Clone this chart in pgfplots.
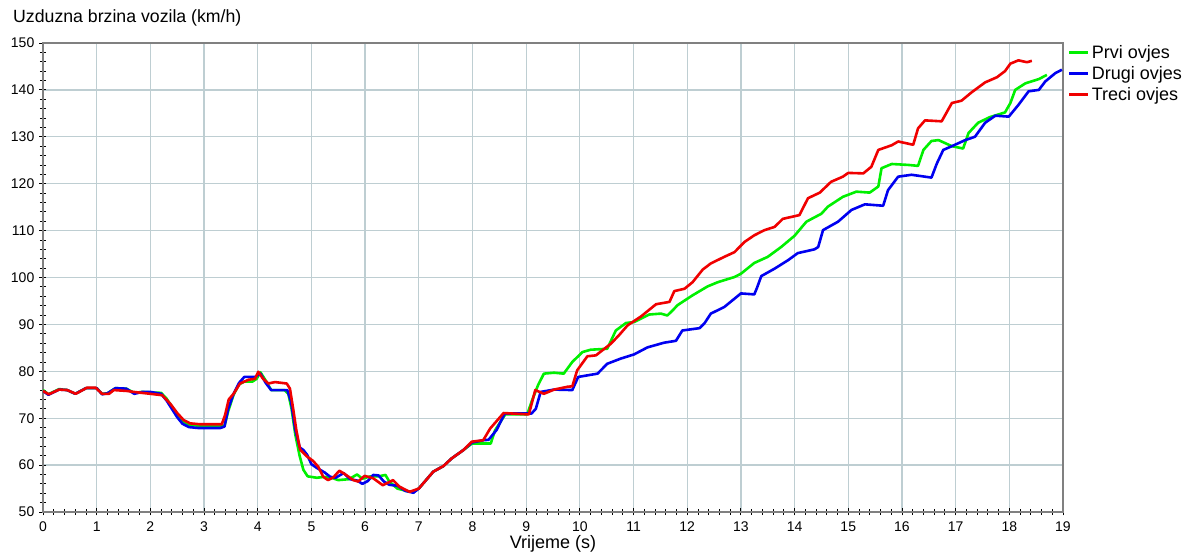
\documentclass[border=0pt]{standalone}
\usepackage{pgfplots}
\pgfplotsset{compat=1.18}
\usepackage{fontspec}
\setmainfont{Liberation Sans}
\definecolor{gridc}{RGB}{190,206,210}
\definecolor{frame}{RGB}{128,128,128}
\definecolor{cg}{RGB}{0,240,0}
\definecolor{cb}{RGB}{0,0,240}
\definecolor{cr}{RGB}{240,0,0}
\begin{document}
\begin{tikzpicture}
\begin{axis}[
  scale only axis, width=1020pt, height=469pt,
  xmin=0, xmax=19, ymin=50, ymax=150,
  xtick={0,1,...,19}, ytick={50,60,...,150},
  minor x tick num=4, minor y tick num=4,
  tick align=center, major tick length=7pt, minor tick length=6pt,
  xtick pos=bottom, ytick pos=left,
  grid=major, major grid style={gridc, line width=1.3pt},
  axis line style={frame, line width=1.2pt},
  tick style={black, line width=0.8pt},
  /pgf/number format/assume math mode=true,
  ticklabel style={font=\fontsize{14}{16}\selectfont},
  yticklabel style={inner sep=0pt, xshift=-5pt},
  xticklabel style={inner sep=0pt, yshift=-6pt},
  xlabel={Vrijeme (s)},
  xlabel style={font=\fontsize{18}{20}\selectfont, at={(rel axis cs:0.5,0)}, anchor=base, yshift=-37pt},
  title={Uzduzna brzina vozila (km/h)},
  title style={font=\fontsize{17.7}{20}\selectfont, at={(rel axis cs:0,1)}, anchor=base west, xshift=-30pt, yshift=14.5pt, inner sep=0pt},
  legend style={at={(rel axis cs:1,1)}, anchor=north west, draw=none, fill=none, xshift=3pt, yshift=2pt,
    font=\fontsize{18}{20}\selectfont, row sep=2.5pt, inner sep=2pt},
  legend cell align=left,
  legend image code/.code={\draw[#1, line width=2.6pt] (0pt,0pt) -- (19pt,0pt);},
  every axis plot/.append style={line width=2.6pt, line join=round},
]
\addplot[cg] coordinates {
(0,76)(0.1,75.1)(0.3,76.2)(0.45,76)(0.6,75.2)(0.8,76.4)(1.0,76.4)(1.1,75.2)(1.2,75.3)(1.35,76.4)(1.55,76.3)(1.7,75.4)(1.85,75.6)(2.0,75.5)(2.2,75.4)(2.3,74.2)(2.4,72.5)(2.5,70.8)(2.6,69.4)(2.72,68.6)(2.9,68.4)(3.3,68.4)(3.38,68.3)(3.45,71.5)(3.55,75)(3.65,77.2)(3.75,77.8)(3.9,77.8)(3.98,78.4)(4.05,79.8)(4.15,78)(4.25,76)(4.5,76)(4.57,75.2)(4.63,72)(4.7,66.5)(4.78,62)(4.85,59)(4.93,57.6)(5.1,57.3)(5.25,57.5)(5.4,57.2)(5.5,56.8)(5.7,57)(5.85,58)(5.95,57.1)(6.1,57.6)(6.25,57.6)(6.38,57.9)(6.45,56.5)(6.6,55)(6.8,54.4)(6.9,54.3)(7.0,55)(7.27,58.6)(7.46,59.8)(7.61,61.4)(7.83,63.2)(7.99,64.6)(8.2,64.6)(8.34,64.6)(8.42,67.4)(8.61,70.8)(9.02,70.8)(9.11,73.8)(9.22,77)(9.33,79.5)(9.52,79.7)(9.7,79.5)(9.86,82)(10.05,84.1)(10.2,84.6)(10.51,84.8)(10.67,88.7)(10.86,90.3)(11.01,90.5)(11.29,92.1)(11.51,92.3)(11.63,91.9)(11.73,93.0)(11.82,94.1)(12.1,96.2)(12.38,98.1)(12.57,99.0)(12.88,100.1)(13.0,100.8)(13.25,103.1)(13.5,104.4)(13.75,106.5)(14.0,108.9)(14.22,111.9)(14.5,113.6)(14.62,115.1)(14.9,117.2)(15.15,118.3)(15.4,118.1)(15.56,119.4)(15.62,123.3)(15.81,124.2)(16.12,124.0)(16.3,123.8)(16.4,127.2)(16.55,129.1)(16.68,129.3)(16.93,128.0)(17.14,127.5)(17.24,130.8)(17.42,133)(17.64,134.2)(17.92,135.2)(18.02,137.2)(18.11,140.0)(18.3,141.4)(18.55,142.3)(18.7,143.2)
};
\addlegendentry{Prvi ovjes}
\addplot[cb] coordinates {
(0,75.8)(0.1,75)(0.3,76.1)(0.45,76)(0.6,75.2)(0.8,76.4)(1.0,76.4)(1.1,75.1)(1.2,75.3)(1.35,76.4)(1.55,76.3)(1.7,75.2)(1.85,75.6)(2.0,75.6)(2.2,75.2)(2.3,73.8)(2.4,72)(2.5,70.2)(2.6,68.8)(2.72,68.1)(2.9,67.9)(3.3,67.9)(3.38,68.2)(3.45,72)(3.55,75.2)(3.65,77.5)(3.75,78.8)(3.95,78.8)(4.05,79.5)(4.15,77.5)(4.25,76)(4.55,76)(4.62,73.5)(4.7,67.5)(4.78,63.8)(4.85,63.2)(4.92,62.2)(5.0,60.2)(5.1,59.4)(5.25,58.4)(5.35,57.5)(5.45,57.3)(5.6,58.3)(5.72,57)(5.85,56.7)(5.95,56)(6.05,56.6)(6.15,57.9)(6.25,57.8)(6.35,56.5)(6.45,55.8)(6.6,55.6)(6.75,54.5)(6.9,54.1)(7.0,55)(7.27,58.6)(7.46,59.8)(7.61,61.4)(7.83,63.2)(7.99,64.8)(8.2,65.3)(8.3,65.4)(8.45,67.5)(8.6,71)(9.1,71)(9.18,72)(9.27,75.6)(9.52,76.1)(9.86,76.0)(9.97,78.8)(10.33,79.5)(10.51,81.6)(10.76,82.7)(11.01,83.6)(11.26,85.1)(11.57,86.1)(11.79,86.5)(11.91,88.7)(12.23,89.2)(12.32,90.2)(12.44,92.3)(12.69,93.7)(13.0,96.6)(13.25,96.4)(13.3,97.8)(13.38,100.3)(13.63,101.9)(13.88,103.7)(14.06,105.2)(14.37,106.0)(14.44,106.5)(14.53,110.1)(14.81,111.9)(15.06,114.4)(15.31,115.6)(15.65,115.3)(15.74,118.6)(15.93,121.5)(16.18,121.9)(16.55,121.3)(16.65,124.3)(16.77,127.2)(16.93,128.0)(17.18,129.3)(17.36,130.0)(17.55,133.0)(17.74,134.5)(17.99,134.3)(18.17,136.8)(18.36,139.7)(18.55,140.0)(18.67,141.8)(18.86,143.6)(18.98,144.3)
};
\addlegendentry{Drugi ovjes}
\addplot[cr] coordinates {
(0,75.8)(0.11,75.1)(0.3,76.1)(0.45,76)(0.61,75.2)(0.82,76.5)(0.98,76.5)(1.1,75.2)(1.23,75.2)(1.32,76)(1.57,75.8)(1.69,75.6)(2.0,75.2)(2.22,74.9)(2.37,73.1)(2.5,71.1)(2.62,69.6)(2.74,68.9)(2.93,68.7)(3.33,68.7)(3.39,70.6)(3.46,74)(3.55,75.2)(3.67,77.4)(3.83,78.2)(3.95,78.4)(4.01,79.9)(4.1,78.4)(4.2,77.4)(4.32,77.7)(4.54,77.4)(4.6,76.3)(4.66,72)(4.72,67.4)(4.79,63.3)(4.91,61.9)(5.03,60.9)(5.13,59.6)(5.22,57.5)(5.31,56.8)(5.41,57.4)(5.52,58.8)(5.62,58.1)(5.78,56.8)(5.87,56.5)(5.99,57.7)(6.15,57.2)(6.33,55.7)(6.52,56.8)(6.64,55.4)(6.83,54.3)(7.0,55)(7.27,58.6)(7.46,59.8)(7.61,61.4)(7.83,63.2)(7.99,65)(8.2,65.3)(8.33,67.8)(8.58,71.1)(9.05,70.8)(9.17,76)(9.33,75.2)(9.52,76.1)(9.77,76.7)(9.86,76.8)(9.95,80.2)(10.14,83.2)(10.3,83.4)(10.58,85.9)(10.73,87.7)(10.89,89.8)(11.14,91.7)(11.42,94.3)(11.67,94.8)(11.76,97.1)(11.95,97.6)(12.1,99.0)(12.29,101.7)(12.44,103.0)(12.69,104.4)(12.88,105.4)(13.07,107.6)(13.25,109.0)(13.44,110.1)(13.63,110.8)(13.78,112.5)(14.09,113.3)(14.25,116.9)(14.47,118.1)(14.68,120.4)(14.9,121.5)(15.0,122.3)(15.28,122.2)(15.43,123.6)(15.56,127.2)(15.81,128.2)(15.93,129.0)(16.21,128.3)(16.3,131.8)(16.43,133.5)(16.74,133.3)(16.93,137.2)(17.11,137.7)(17.3,139.5)(17.55,141.6)(17.77,142.7)(17.92,144)(18.02,145.6)(18.17,146.3)(18.33,145.9)(18.42,146.2)
};
\addlegendentry{Treci ovjes}
\end{axis}
\pgfresetboundingbox
\path (-43pt,-41pt) rectangle (1141pt,512pt);
\end{tikzpicture}
\end{document}
